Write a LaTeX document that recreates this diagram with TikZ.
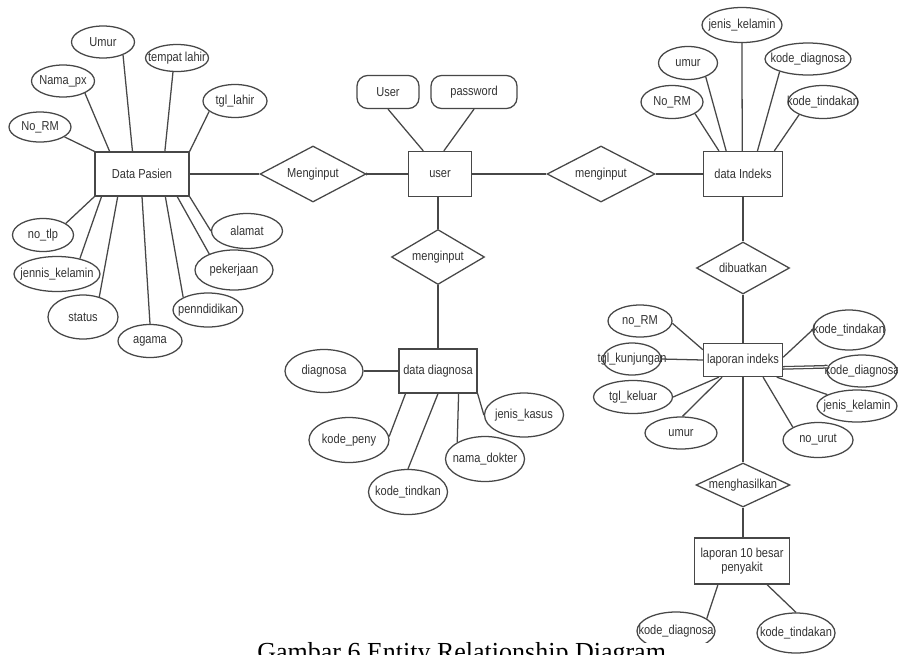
\documentclass[tikz,border=0pt]{standalone}
\usepackage{fontspec}
\newfontfamily\erfont{Liberation Sans}[FakeStretch=0.85]
\newfontfamily\capfont{Liberation Serif}
\usetikzlibrary{shapes.geometric,calc}
\newcommand\zb[1]{\makebox[0pt]{#1}}
\definecolor{lc}{gray}{0.28}
\definecolor{tc}{gray}{0.2}
\tikzset{
  sz/.style 2 args={minimum width=#1*0.75pt, minimum height=#2*0.75pt},
  base/.style={draw=lc, line width=0.95pt, text=tc, font=\erfont\fontsize{9.75pt}{11pt}\selectfont},
  ent/.style={base, rectangle, inner sep=1pt},
  attr/.style={base, ellipse, inner sep=0pt},
  rel/.style={base, diamond, inner sep=0pt},
  ua/.style={base, rectangle, rounded corners=8pt, inner sep=1pt},
  ln/.style={draw=lc, line width=0.95pt},
}
\begin{document}
\begin{tikzpicture}[x=0.75pt,y=-0.75pt]
\useasboundingbox[fill=white] (0,0) rectangle (898,654);

% ---------- Data Pasien ----------
\node[ent, sz={94}{44}] (dp) at (142,174) {Data Pasien};
\node[attr, sz={63}{32}] (umur1) at (103,42) {\zb{Umur}};
\node[attr, sz={63}{32}] (nama) at (63,81) {\zb{Nama\_px}};
\node[attr, sz={62}{30}] (norm1) at (40,127) {\zb{No\_RM}};
\node[attr, sz={63}{27}] (tl) at (177,58) {\zb{tempat lahir}};
\node[attr, sz={64}{33}] (tgl) at (235,101) {\zb{tgl\_lahir}};
\node[attr, sz={61}{33}] (tlp) at (43,235) {\zb{no\_tlp}};
\node[attr, sz={86}{35}] (jk1) at (57,274) {\zb{jennis\_kelamin}};
\node[attr, sz={70}{44}] (st) at (83,317) {\zb{status}};
\node[attr, sz={64}{33}] (ag) at (150,341) {\zb{agama}};
\node[attr, sz={70}{34}] (pd) at (208,310) {\zb{penndidikan}};
\node[attr, sz={78}{40}] (pk) at (234,270) {\zb{pekerjaan}};
\node[attr, sz={71}{35}] (al) at (247,231) {\zb{alamat}};

\draw[ln] (norm1.-22) -- (dp.north west);
\draw[ln] (nama.-29) -- ($(dp.north west)!0.16!(dp.north east)$);
\draw[ln] (umur1.-33) -- ($(dp.north west)!0.40!(dp.north east)$);
\draw[ln] (tl.-106) -- ($(dp.north west)!0.74!(dp.north east)$);
\draw[ln] (tgl.-158) -- (dp.north east);
\draw[ln] (tlp.27) -- (dp.south west);
\draw[ln] (jk1.34) -- ($(dp.south west)!0.075!(dp.south east)$);
\draw[ln] (st.51) -- ($(dp.south west)!0.245!(dp.south east)$);
\draw[ln] (ag.90) -- ($(dp.south west)!0.5!(dp.south east)$);
\draw[ln] (pd.153) -- ($(dp.south west)!0.745!(dp.south east)$);
\draw[ln] (pk.147) -- ($(dp.south west)!0.87!(dp.south east)$);
\draw[ln] (al.180) -- (dp.south east);

% ---------- user ----------
\node[rel, sz={106}{56}] (r1) at (313,174) {\zb{Menginput}};
\node[ent, sz={63}{45}] (us) at (440,174) {user};
\node[ua, sz={62}{33}] (uu) at (388,92) {User};
\node[ua, sz={86}{33}] (pw) at (474,92) {password};
\draw[ln] (dp.east) -- (r1.west);
\draw[ln] (r1.east) -- (us.west);
\fill[lc] (r1.east) circle[radius=1.6];
\draw[ln] (uu.south) -- ($(us.north west)!0.24!(us.north east)$);
\draw[ln] (pw.south) -- ($(us.north west)!0.56!(us.north east)$);

% ---------- data Indeks ----------
\node[rel, sz={108}{56}] (r2) at (601,174) {\zb{menginput}};
\node[ent, sz={79}{45}] (di) at (743,174) {data Indeks};
\draw[ln] (us.east) -- (r2.west);
\draw[ln] (r2.east) -- (di.west);
\node[attr, sz={80}{35}] (jk2) at (742,25) {\zb{jenis\_kelamin}};
\node[attr, sz={59}{33}] (umur2) at (688,63) {\zb{umur}};
\node[attr, sz={86}{32}] (kd1) at (808,59) {\zb{kode\_diagnosa}};
\node[attr, sz={62}{33}] (norm2) at (672,102) {\zb{No\_RM}};
\node[attr, sz={70}{33}] (kt1) at (823,102) {\zb{kode\_tindakan}};
\draw[ln] (norm2.-27) -- ($(di.north west)!0.2!(di.north east)$);
\draw[ln] (umur2.-38) -- ($(di.north west)!0.29!(di.north east)$);
\draw[ln] (jk2.south) -- ($(di.north west)!0.49!(di.north east)$);
\draw[ln] (kd1.-156) -- ($(di.north west)!0.68!(di.north east)$);
\draw[ln] (kt1.-152) -- ($(di.north west)!0.89!(di.north east)$);

% ---------- laporan indeks ----------
\node[rel, sz={93}{52}] (r3) at (743,268) {\zb{dibuatkan}};
\node[ent, sz={79}{33}] (li) at (743,360) {laporan indeks};
\draw[ln] (di.south) -- (r3.north);
\draw[ln] (r3.south) -- (li.north);
\node[attr, sz={64}{32}] (norm3) at (640,321) {\zb{no\_RM}};
\node[attr, sz={58}{32}] (tk) at (632,359) {\zb{tgl\_kunjungan}};
\node[attr, sz={79}{33}] (tk2) at (633,397) {\zb{tgl\_keluar}};
\node[attr, sz={72}{32}] (umur3) at (681,433) {\zb{umur}};
\node[attr, sz={72}{40}] (kt2) at (849,330) {\zb{kode\_tindakan}};
\node[attr, sz={70}{32}] (kd2) at (862,371) {\zb{kode\_diagnosa}};
\node[attr, sz={80}{32}] (jk3) at (857,406) {\zb{jenis\_kelamin}};
\node[attr, sz={70}{35}] (nu) at (818,440) {\zb{no\_urut}};
\draw[ln] (norm3.-4) -- ($(li.north west)!0.2!(li.south west)$);
\draw[ln] (tk.east) -- (li.west);
\draw[ln] (tk2.east) -- ($(li.south west)!0.2!(li.south east)$);
\draw[ln] (umur3.85) -- ($(li.south west)!0.24!(li.south east)$);
\draw[ln] (kt2.180) -- ($(li.north east)!0.42!(li.south east)$);
\fill[lc] (kt2.180) circle[radius=1.4];
\draw[ln, double=white, double distance=0.9pt] (kd2.173) -- ($(li.north east)!0.73!(li.south east)$);
\draw[ln] (jk3.159) -- ($(li.south west)!0.92!(li.south east)$);
\draw[ln] (nu.153) -- ($(li.south west)!0.75!(li.south east)$);

% ---------- laporan 10 besar ----------
\node[rel, sz={94}{44}] (r4) at (743,485) {\zb{menghasilkan}};
\node[ent, sz={95}{46}, align=center] (l10) at (742,561) {laporan 10 besar\\penyakit};
\draw[ln] (li.south) -- (r4.north);
\draw[ln] (r4.south) -- (l10.north -| r4.south);
\node[attr, sz={78}{38}] (kd3) at (676,631) {\zb{kode\_diagnosa}};
\node[attr, sz={78}{40}] (kt3) at (796,633) {\zb{kode\_tindakan}};
\draw[ln] (kd3.22) -- ($(l10.south west)!0.25!(l10.south east)$);
\draw[ln] (kt3.90) -- ($(l10.south west)!0.76!(l10.south east)$);

% ---------- data diagnosa ----------
\node[rel, sz={93}{55}] (r5) at (438,257) {\zb{menginput}};
\node[ent, sz={78}{44}] (dd) at (438,371) {data diagnosa};
\draw[ln] (us.south -| r5.north) -- (r5.north);
\draw[ln] (r5.south) -- (dd.north);
\node[attr, sz={78}{43}] (dg) at (324,371) {\zb{diagnosa}};
\node[attr, sz={80}{45}] (kp) at (349,440) {\zb{kode\_peny}};
\node[attr, sz={79}{45}] (ktd) at (408,492) {\zb{kode\_tindkan}};
\node[attr, sz={79}{45}] (nd) at (485,459) {\zb{nama\_dokter}};
\node[attr, sz={79}{44}] (jks) at (524,415) {\zb{jenis\_kasus}};
\draw[ln] (dg.east) -- (dd.west);
\draw[ln] (kp.5) -- ($(dd.south west)!0.09!(dd.south east)$);
\draw[ln] (ktd.90) -- ($(dd.south west)!0.5!(dd.south east)$);
\draw[ln] (nd.149) -- ($(dd.south west)!0.76!(dd.south east)$);
\draw[ln] (jks.180) -- (dd.south east);

% ---------- caption (overlaps the bottom of the last ellipse, as in the source) ----------
\fill[white] (250,643) rectangle (716,660);
\node[anchor=base west, inner sep=0pt, font=\capfont\fontsize{19.5pt}{22pt}\selectfont] (cap) at (257,660) {Gambar 6 Entity Relationship Diagram};
\end{tikzpicture}
\end{document}
